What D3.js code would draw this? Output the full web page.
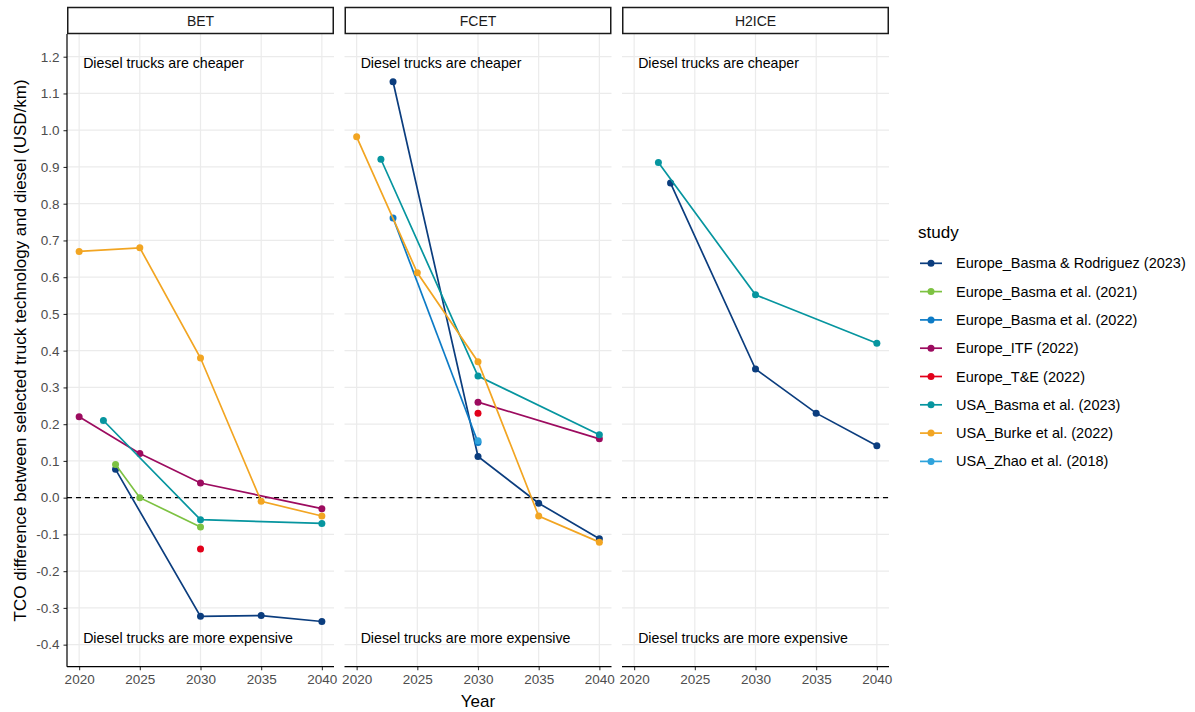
<!DOCTYPE html>
<html>
<head>
<meta charset="utf-8">
<script src="https://cdn.jsdelivr.net/npm/d3@7"></script>
<style>
  body { margin: 0; background: #fff; }
  svg { display: block; font-family: "Liberation Sans", Arial, sans-serif; }
</style>
</head>
<body>
<svg id="chart" width="1195" height="712"></svg>
<script>
// facet names and legend order
var panels = ["BET", "FCET", "H2ICE"];
var studies = [
  "Europe_Basma & Rodriguez (2023)",
  "Europe_Basma et al. (2021)",
  "Europe_Basma et al. (2022)",
  "Europe_ITF (2022)",
  "Europe_T&E (2022)",
  "USA_Basma et al. (2023)",
  "USA_Burke et al. (2022)",
  "USA_Zhao et al. (2018)"
];
var studyColors = ["#0b3d7e", "#7dc242", "#0d7bc6", "#9c0b5f", "#e2001a", "#06959f", "#f2a522", "#2ea3dc"];

var xTicks = [2020, 2025, 2030, 2035, 2040];
var yTicks = [1.2, 1.1, 1.0, 0.9, 0.8, 0.7, 0.6, 0.5, 0.4, 0.3, 0.2, 0.1, 0.0, -0.1, -0.2, -0.3, -0.4];

// values, [year, USD/km] per panel
var basmaRodriguez2023 = {
  BET:   [[2023, 0.077], [2030, -0.323], [2035, -0.321], [2040, -0.337]],
  FCET:  [[2023, 1.132], [2030, 0.112], [2035, -0.015], [2040, -0.112]],
  H2ICE: [[2023, 0.856], [2030, 0.35], [2035, 0.23], [2040, 0.141]]
};
var basma2021 = {
  BET: [[2023, 0.09], [2025, 0.0], [2030, -0.08]]
};
var basma2022 = {
  FCET: [[2023, 0.761], [2030, 0.15]]
};
var itf2022 = {
  BET:  [[2020, 0.22], [2025, 0.12], [2030, 0.04], [2040, -0.03]],
  FCET: [[2030, 0.26], [2040, 0.16]]
};
var te2022 = {
  BET:  [[2030, -0.14]],
  FCET: [[2030, 0.23]]
};
var usaBasma2023 = {
  BET:   [[2022, 0.21], [2030, -0.06], [2040, -0.07]],
  FCET:  [[2022, 0.921], [2030, 0.331], [2040, 0.171]],
  H2ICE: [[2022, 0.912], [2030, 0.552], [2040, 0.42]]
};
var burke2022 = {
  BET:  [[2020, 0.67], [2025, 0.68], [2030, 0.38], [2035, -0.01], [2040, -0.05]],
  FCET: [[2020, 0.982], [2025, 0.612], [2030, 0.37], [2035, -0.05], [2040, -0.121]]
};
var zhao2018 = {
  FCET: [[2030, 0.155]]
};
var studyData = [basmaRodriguez2023, basma2021, basma2022, itf2022, te2022, usaBasma2023, burke2022, zhao2018];

//==========================================================================================================
var svg = d3.select("#chart");

var panelLeft = 67, panelWidth = 267, panelGap = 10.5;
var plotTop = 34, plotBottom = 666.7;
var gridColor = "#ebebeb", tickText = "#4d4d4d";

var yScale = d3.scaleLinear().domain([-0.46, 1.2618]).range([plotBottom, plotTop]);

panels.forEach(function (panel, p) {
  var x0 = panelLeft + p * (panelWidth + panelGap);
  var xScale = d3.scaleLinear().domain([2019, 2041]).range([x0, x0 + panelWidth]);
  var g = svg.append("g");

  // grid
  g.selectAll("line.hgrid").data(yTicks).enter().append("line")
    .attr("x1", x0).attr("x2", x0 + panelWidth)
    .attr("y1", function (d) { return yScale(d); })
    .attr("y2", function (d) { return yScale(d); })
    .attr("stroke", gridColor).attr("stroke-width", 1.2);
  g.selectAll("line.vgrid").data(xTicks).enter().append("line")
    .attr("x1", function (d) { return xScale(d); })
    .attr("x2", function (d) { return xScale(d); })
    .attr("y1", plotTop).attr("y2", plotBottom)
    .attr("stroke", gridColor).attr("stroke-width", 1.2);

  // strip
  g.append("rect").attr("x", x0 + 0.75).attr("y", 7.5)
    .attr("width", panelWidth - 1.5).attr("height", 26)
    .attr("fill", "#fff").attr("stroke", "#1a1a1a").attr("stroke-width", 1.5);
  g.append("text").attr("x", x0 + panelWidth / 2).attr("y", 20.5)
    .attr("text-anchor", "middle").attr("dominant-baseline", "central")
    .attr("font-size", 14).attr("fill", "#1a1a1a").text(panel);

  // zero line
  g.append("line").attr("x1", x0).attr("x2", x0 + panelWidth)
    .attr("y1", yScale(0)).attr("y2", yScale(0))
    .attr("stroke", "#000").attr("stroke-width", 1.3).attr("stroke-dasharray", "5,4");

  // annotations
  g.append("text").attr("x", xScale(2020) + 4).attr("y", yScale(1.182))
    .attr("dominant-baseline", "central").attr("font-size", 14.2).attr("fill", "#000")
    .text("Diesel trucks are cheaper");
  g.append("text").attr("x", xScale(2020) + 4).attr("y", yScale(-0.383))
    .attr("dominant-baseline", "central").attr("font-size", 14.2).attr("fill", "#000")
    .text("Diesel trucks are more expensive");

  // x axis
  var xAxis = d3.axisBottom(xScale).tickValues(xTicks).tickSize(3.5).tickPadding(4)
    .tickFormat(function (d) { return d; });
  var ax = g.append("g").attr("transform", "translate(0," + plotBottom + ")").call(xAxis);
  ax.select(".domain").remove();
  ax.selectAll(".tick line").attr("stroke", "#333").attr("stroke-width", 1.1);
  ax.selectAll(".tick text").attr("fill", tickText).attr("font-size", 13.5)
    .attr("font-family", "Liberation Sans, Arial, sans-serif");
  g.append("line").attr("x1", x0).attr("x2", x0 + panelWidth)
    .attr("y1", plotBottom).attr("y2", plotBottom).attr("stroke", "#000").attr("stroke-width", 1.2);

  if (p === 0) {
    var yAxis = d3.axisLeft(yScale).tickValues(yTicks).tickSize(3.5).tickPadding(4)
      .tickFormat(d3.format(".1f"));
    var ay = g.append("g").attr("transform", "translate(" + x0 + ",0)").call(yAxis);
    ay.select(".domain").remove();
    ay.selectAll(".tick line").attr("stroke", "#333").attr("stroke-width", 1.1);
    ay.selectAll(".tick text").attr("fill", tickText).attr("font-size", 13.5)
      .attr("font-family", "Liberation Sans, Arial, sans-serif")
      .text(function (d) { return d3.format(".1f")(d).replace("−", "-"); });
    g.append("line").attr("x1", x0).attr("x2", x0)
      .attr("y1", plotTop).attr("y2", plotBottom).attr("stroke", "#000").attr("stroke-width", 1.2);
  }

  // series
  var line = d3.line()
    .x(function (d) { return xScale(d[0]); })
    .y(function (d) { return yScale(d[1]); });

  studyData.forEach(function (s, i) {
    var pts = s[panel];
    if (!pts) return;
    if (pts.length > 1) {
      g.append("path").attr("d", line(pts)).attr("fill", "none")
        .attr("stroke", studyColors[i]).attr("stroke-width", 1.7);
    }
    g.selectAll(null).data(pts).enter().append("circle")
      .attr("cx", function (d) { return xScale(d[0]); })
      .attr("cy", function (d) { return yScale(d[1]); })
      .attr("r", 3.5).attr("fill", studyColors[i]);
  });
});

// axis titles
svg.append("text").attr("x", 478).attr("y", 701)
  .attr("text-anchor", "middle").attr("dominant-baseline", "central")
  .attr("font-size", 17).attr("fill", "#000").text("Year");
svg.append("text")
  .attr("transform", "translate(20," + ((plotTop + plotBottom) / 2) + ") rotate(-90)")
  .attr("text-anchor", "middle").attr("dominant-baseline", "central")
  .attr("font-size", 17).attr("fill", "#000")
  .text("TCO difference between selected truck technology and diesel (USD/km)");

// legend
var legend = svg.append("g");
legend.append("text").attr("x", 918).attr("y", 232)
  .attr("dominant-baseline", "central").attr("font-size", 17).attr("fill", "#000").text("study");
studies.forEach(function (name, i) {
  var y = 263.3 + i * 28.3;
  legend.append("line").attr("x1", 920).attr("x2", 942).attr("y1", y).attr("y2", y)
    .attr("stroke", studyColors[i]).attr("stroke-width", 1.7);
  legend.append("circle").attr("cx", 931).attr("cy", y).attr("r", 3.5).attr("fill", studyColors[i]);
  legend.append("text").attr("x", 956).attr("y", y)
    .attr("dominant-baseline", "central").attr("font-size", 14.5).attr("fill", "#000").text(name);
});
</script>
</body>
</html>
